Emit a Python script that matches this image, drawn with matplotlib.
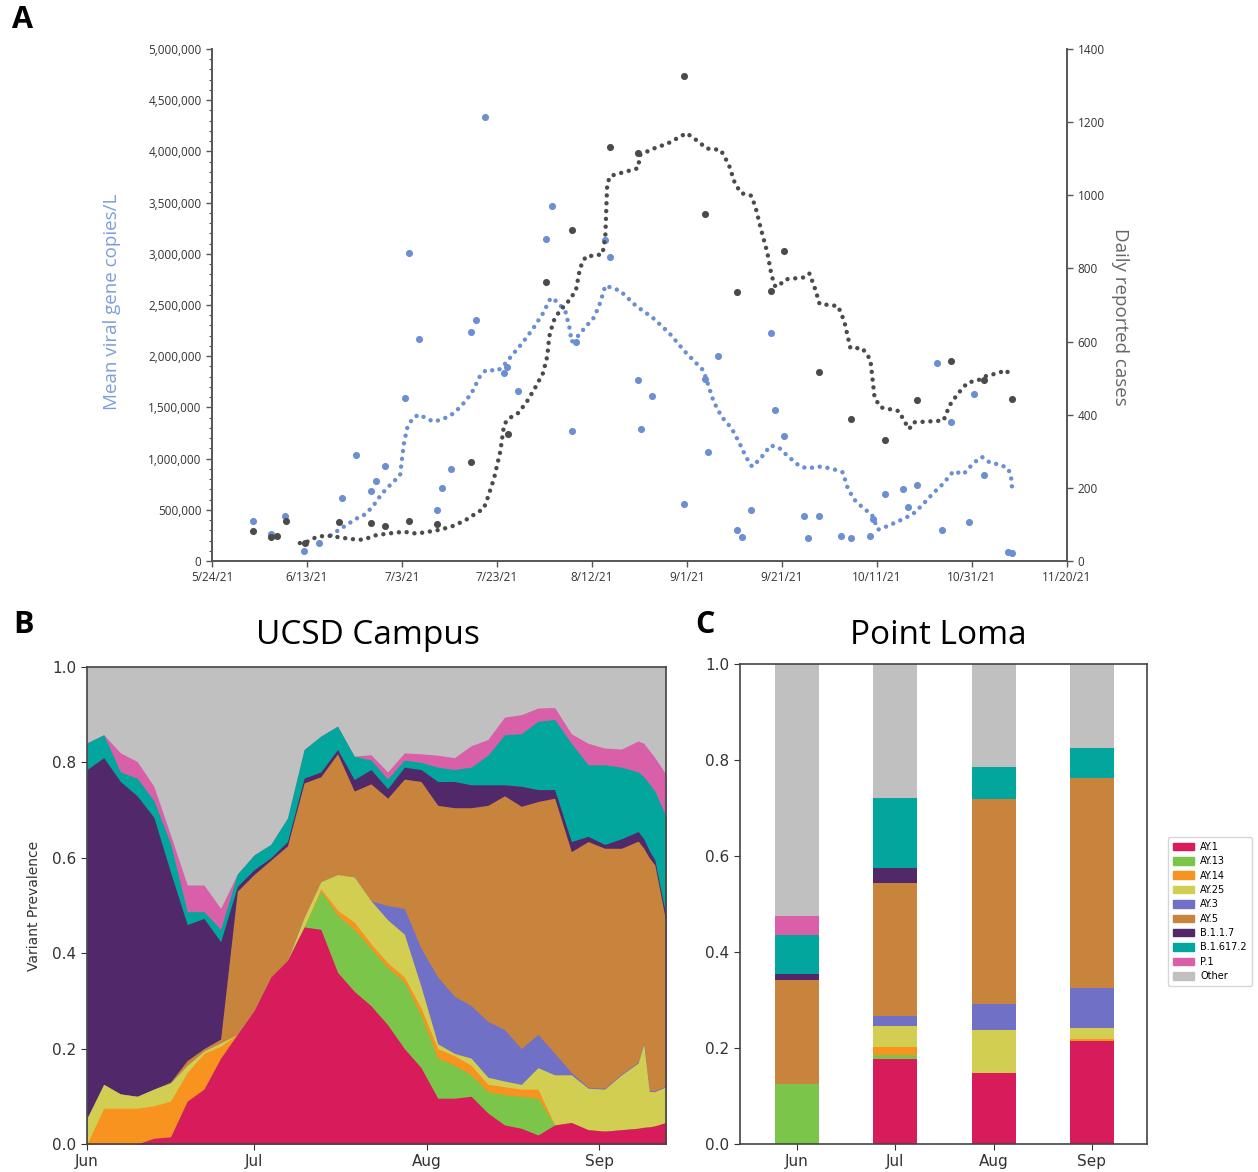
import numpy as np
import pandas as pd
import matplotlib as mpl
mpl.use('Agg')
from matplotlib import pyplot as plt
from matplotlib.patches import Patch
from matplotlib.ticker import MultipleLocator, FuncFormatter

# ---------------- panel A data (days after 5/24/21) ----------------
viral_days = [8.6, 12.5, 15.4, 19.3, 22.5, 27.3, 30.3, 33.4, 34.5, 36.4, 40.6, 41.4, 43.5,
              47.4, 48.5, 50.4, 54.6, 55.6, 57.5, 61.4, 62.0, 64.5, 70.4, 71.6, 75.7, 76.6,
              82.7, 83.7, 89.6, 90.4, 92.6, 99.4, 103.7, 104.5, 106.6, 110.5, 111.5, 113.5,
              117.6, 118.6, 120.5, 124.6, 125.4, 127.7, 132.5, 134.5, 138.6, 139.2, 141.6,
              145.5, 146.5, 148.5, 152.6, 153.6, 155.6, 159.3, 160.4, 162.5, 167.6, 168.5]
viral_vals = [392600, 260000, 443400, 100600, 175800, 615200, 1035000, 683600, 781200, 927700,
              1591800, 3010700, 2167900, 501000, 713900, 893600, 2240200, 2353500, 4335900,
              1839800, 1894500, 1664000, 3148400, 3467800, 1271500, 2138700, 3137700, 2972700,
              1762700, 1284200, 1613300, 559600, 1781300, 1067400, 2004900, 305700, 231400,
              496100, 2221700, 1474600, 1220700, 444300, 220700, 436500, 242200, 220700,
              242200, 410200, 653300, 701200, 522500, 739300, 1930700, 305700, 1359400,
              380900, 1631800, 835900, 88900, 74200]

viral_avg_days = [25.0, 26.2, 28.4, 31.0, 32.3, 34.0, 35.7, 37.4, 39.6, 40.0, 40.4, 41.1, 42.2,
                  43.5, 44.8, 46.6, 48.6, 50.8, 52.5, 54.6, 56.4, 57.7, 60.2, 61.5, 63.3, 65.4,
                  67.6, 69.7, 71.3, 72.7, 74.4, 75.3, 75.7, 77.0, 78.7, 80.5, 81.8, 82.8, 85.9,
                  89.3, 92.7, 96.2, 99.6, 103.4, 104.3, 105.6, 107.3, 109.4, 111.1, 112.4,
                  113.7, 115.4, 117.6, 119.3, 121.0, 123.6, 125.3, 127.8, 130.4, 132.8, 133.8,
                  135.1, 137.2, 138.9, 140.2, 142.4, 145.0, 147.5, 149.6, 151.8, 153.9, 156.1,
                  158.2, 160.4, 162.1, 163.8, 165.9, 167.6, 168.2, 168.5]
viral_avg_vals = [250000, 288000, 355000, 430000, 456000, 542000, 654000, 737000, 838000, 998000,
                  1148000, 1298000, 1391000, 1429000, 1402000, 1361000, 1384000, 1440000,
                  1515000, 1634000, 1803000, 1866000, 1859000, 1915000, 2016000, 2132000,
                  2270000, 2420000, 2569000, 2532000, 2438000, 2270000, 2139000, 2195000,
                  2289000, 2382000, 2532000, 2689000, 2640000, 2490000, 2379000, 2229000,
                  2043000, 1863000, 1744000, 1557000, 1408000, 1296000, 1146000, 1016000,
                  922000, 997000, 1128000, 1109000, 1034000, 930000, 904000, 922000, 904000,
                  866000, 717000, 605000, 512000, 456000, 306000, 344000, 400000, 456000,
                  549000, 661000, 754000, 877000, 848000, 960000, 1016000, 960000, 941000,
                  904000, 829000, 680000]

cases_days = [8.6, 12.4, 13.7, 15.5, 19.6, 26.7, 33.4, 36.4, 41.4, 47.4, 54.6, 62.4, 70.4,
              75.7, 83.7, 89.7, 99.4, 103.7, 110.5, 117.6, 120.5, 127.7, 134.5, 141.6, 148.5,
              155.6, 162.5, 168.5]
cases_vals = [83, 65, 68, 110, 49, 108, 105, 97, 110, 101, 271, 347, 764, 905, 1133, 1115,
              1326, 950, 736, 739, 849, 516, 388, 331, 441, 548, 495, 444]

cases_avg_days = [18.5, 19.8, 21.9, 24.1, 26.7, 29.3, 31.8, 34.4, 37.0, 40.4, 43.0, 45.6, 48.2,
                  50.8, 53.4, 55.9, 57.2, 58.1, 59.4, 60.7, 61.5, 62.4, 64.5, 66.3, 68.0, 69.7,
                  70.6, 71.0, 71.9, 73.1, 74.9, 76.6, 77.5, 78.7, 80.5, 82.2, 82.8, 83.2, 83.9,
                  86.1, 89.7, 90.1, 92.6, 96.0, 99.9, 102.4, 104.1, 107.1, 108.8, 110.1, 111.4,
                  113.5, 114.4, 115.6, 116.9, 117.8, 118.6, 119.5, 120.7, 125.0, 125.8, 127.1,
                  127.9, 131.8, 133.1, 134.4, 136.9, 138.6, 139.5, 140.8, 144.6, 145.9, 146.8,
                  147.6, 154.0, 155.3, 157.0, 159.1, 161.3, 162.5, 165.5, 167.2, 168.2]
cases_avg_vals = [49, 51, 65, 70, 65, 60, 58, 70, 75, 80, 75, 80, 86, 96, 112, 133, 143, 175,
                  227, 300, 373, 389, 405, 436, 473, 514, 561, 614, 656, 682, 708, 739, 802,
                  833, 835, 839, 886, 1032, 1053, 1061, 1074, 1110, 1126, 1142, 1170, 1147,
                  1128, 1124, 1084, 1032, 1006, 999, 969, 906, 844, 781, 750, 755, 770, 776,
                  786, 739, 703, 697, 656, 582, 582, 551, 446, 420, 410, 379, 361, 379, 384,
                  426, 457, 488, 494, 504, 514, 522, 504]

a_tick_labels = ['5/24/21', '6/13/21', '7/3/21', '7/23/21', '8/12/21', '9/1/21',
                 '9/21/21', '10/11/21', '10/31/21', '11/20/21']

# ---------------- panel B data: cumulative tops (days after 6/1/21) ----------------
b_days = [0, 3, 6, 9, 12, 15, 18, 21, 24, 27, 30, 33, 36, 39, 42, 45, 48, 51, 54, 57, 60,
          63, 66, 69, 72, 75, 78, 81, 84, 87, 90, 93, 96, 99, 100, 101, 102, 104]
top_ay1 = [0, 0, 0, 0, .012, .015, .09, .115, .18, .23, .28, .35, .385, .455, .45, .36, .32,
           .29, .25, .20, .16, .096, .096, .10, .065, .04, .033, .019, .04, .045, .03, .027,
           .03, .033, .035, .036, .038, .045]
top_ay13 = [0, 0, 0, 0, .012, .015, .09, .115, .18, .23, .28, .35, .385, .455, .53, .48, .45,
            .41, .37, .34, .27, .18, .165, .145, .11, .103, .10, .096, .04, .045, .03, .027,
            .03, .033, .035, .036, .038, .045]
top_ay14 = [0, .075, .075, .075, .08, .09, .15, .19, .205, .23, .28, .35, .385, .455, .535, .49,
            .465, .42, .38, .35, .285, .20, .185, .165, .125, .12, .115, .115, .04, .045, .03,
            .027, .03, .033, .035, .036, .038, .045]
top_ay25 = [.054, .125, .105, .10, .115, .128, .165, .195, .212, .23, .28, .35, .385, .475, .55,
            .565, .56, .51, .47, .44, .33, .21, .19, .18, .14, .132, .125, .16, .145, .145,
            .117, .115, .145, .17, .21, .11, .11, .12]
top_ay3 = [.054, .125, .105, .10, .115, .128, .165, .195, .212, .23, .28, .35, .385, .475, .55,
           .565, .56, .51, .50, .494, .41, .35, .31, .29, .257, .24, .20, .23, .19, .15, .119,
           .117, .147, .172, .212, .112, .112, .122]
top_ay5 = [.054, .125, .105, .10, .115, .13, .175, .20, .22, .53, .565, .595, .625, .757, .77,
           .818, .74, .755, .725, .765, .76, .71, .705, .705, .71, .73, .708, .718, .725, .613,
           .634, .62, .62, .635, .62, .60, .585, .465]
top_b117 = [.785, .81, .76, .73, .685, .57, .46, .473, .424, .54, .575, .60, .634, .767, .78,
            .827, .764, .785, .745, .79, .785, .76, .76, .753, .753, .753, .75, .743, .743,
            .634, .645, .628, .64, .655, .64, .615, .595, .478]
top_b16172 = [.841, .858, .78, .767, .72, .63, .487, .487, .45, .566, .606, .628, .683, .827,
              .855, .876, .813, .805, .765, .805, .80, .79, .785, .79, .815, .858, .86, .886,
              .89, .84, .795, .795, .79, .78, .77, .755, .74, .686]
top_p1 = [.841, .858, .82, .802, .75, .648, .543, .543, .494, .566, .606, .628, .683, .827, .855,
          .876, .813, .816, .78, .82, .818, .815, .81, .835, .848, .895, .90, .914, .915, .86,
          .84, .83, .828, .845, .84, .825, .81, .775]

# ---------------- panel C data ----------------
months = ['Jun', 'Jul', 'Aug', 'Sep']
pc_ay1 = [0, .178, .148, .214]
pc_ay13 = [.124, .008, 0, 0]
pc_ay14 = [0, .017, 0, .004]
pc_ay25 = [0, .042, .090, .023]
pc_ay3 = [0, .021, .054, .083]
pc_ay5 = [.218, .277, .426, .439]
pc_b117 = [.012, .031, 0, 0]
pc_b16172 = [.082, .147, .067, .061]
pc_p1 = [.040, 0, 0, 0]
pc_other = [.524, .279, .215, .176]

variants = ['AY.1', 'AY.13', 'AY.14', 'AY.25', 'AY.3', 'AY.5', 'B.1.1.7', 'B.1.617.2', 'P.1', 'Other']
colors = ['#d81b5b', '#7bc64a', '#f7931e', '#d2ce52', '#7070c6', '#c8843d', '#51296b',
          '#02a69c', '#d85fa8', '#c0c0c0']

# ---------------- figure ----------------
fig = plt.figure(figsize=(12.58, 11.72), dpi=100)
afont = 'Open Sans'
blue = '#6b8fd3'
dark = '#4b4b4b'

# panel A
ax = fig.add_axes([212 / 1258, 1 - 561 / 1172, 855 / 1258, 512 / 1172])
ax2 = ax.twinx()
t0 = pd.Timestamp('2021-05-24')
dotted = (0, (0.01, 1.75))
ax.plot(t0 + pd.to_timedelta(viral_avg_days, unit='D'), viral_avg_vals, color=blue, lw=3.2,
        linestyle=dotted, dash_capstyle='round')
ax.scatter(t0 + pd.to_timedelta(viral_days, unit='D'), viral_vals, s=26, color=blue, zorder=3,
           linewidths=0)
ax2.plot(t0 + pd.to_timedelta(cases_avg_days, unit='D'), cases_avg_vals, color=dark, lw=3.2,
         linestyle=dotted, dash_capstyle='round')
ax2.scatter(t0 + pd.to_timedelta(cases_days, unit='D'), cases_vals, s=26, color=dark, zorder=3,
            linewidths=0)
ax.set_xlim(t0, t0 + pd.Timedelta(days=180))
ax.set_ylim(0, 5000000)
ax2.set_ylim(0, 1400)
ax.set_xticks(t0 + pd.to_timedelta(np.arange(10) * 20, unit='D'))
ax.set_xticklabels(a_tick_labels)
ax.yaxis.set_major_locator(MultipleLocator(500000))
ax.yaxis.set_minor_locator(MultipleLocator(100000))
ax.yaxis.set_major_formatter(FuncFormatter(lambda v, p: '{:,.0f}'.format(v)))
ax2.yaxis.set_major_locator(MultipleLocator(200))
for a in (ax, ax2):
    a.spines['top'].set_visible(False)
    for s in ('left', 'bottom', 'right'):
        a.spines[s].set_color('#555555')
        a.spines[s].set_linewidth(1.4)
    a.tick_params(axis='both', which='major', labelsize=8.5, colors='#555555',
                  labelcolor='#333333', length=4, width=1)
    a.tick_params(axis='y', which='minor', length=2.5, width=0.8, colors='#555555')
    for lab in a.get_xticklabels() + a.get_yticklabels():
        lab.set_family(afont)
ax.spines['right'].set_visible(False)
ax2.spines['left'].set_visible(False)
ax2.spines['bottom'].set_visible(False)
fig.text(112 / 1258, 1 - 302 / 1172, 'Mean viral gene copies/L', color='#7b9edb', fontsize=13.5,
         rotation=90, ha='center', va='center', family=afont)
fig.text(1120 / 1258, 1 - 317 / 1172, 'Daily reported cases', color='#666666', fontsize=13.5,
         rotation=270, ha='center', va='center', family=afont)

# panel B
axb = fig.add_axes([87 / 1258, 1 - 1144 / 1172, 579 / 1258, 477 / 1172])
tb = pd.Timestamp('2021-06-01')
xb = tb + pd.to_timedelta(b_days, unit='D')
tops = [top_ay1, top_ay13, top_ay14, top_ay25, top_ay3, top_ay5, top_b117, top_b16172, top_p1,
        [1.0] * len(b_days)]
for top, col in zip(tops[::-1], colors[::-1]):
    axb.fill_between(xb, 0, top, color=col, lw=0)
axb.set_xlim(xb[0], xb[-1])
axb.set_ylim(0, 1)
axb.set_xticks(pd.to_datetime(['2021-06-01', '2021-07-01', '2021-08-01', '2021-09-01']))
axb.set_xticklabels(months)
axb.yaxis.set_major_locator(MultipleLocator(0.2))
axb.tick_params(labelsize=11, colors='#333333', length=4)
axb.set_ylabel('Variant Prevalence', fontsize=10, color='#333333', labelpad=8)
for s in axb.spines.values():
    s.set_color('#444444')
    s.set_linewidth(1.2)

# panel C
axc = fig.add_axes([740 / 1258, 1 - 1144 / 1172, 407 / 1258, 480 / 1172])
pc = [pc_ay1, pc_ay13, pc_ay14, pc_ay25, pc_ay3, pc_ay5, pc_b117, pc_b16172, pc_p1, pc_other]
xc = np.arange(len(months))
bottom = np.zeros(len(months))
for vals, col in zip(pc, colors):
    axc.bar(xc, vals, width=0.45, bottom=bottom, color=col, lw=0)
    bottom = bottom + np.array(vals)
axc.set_xlim(-0.58, 3.56)
axc.set_ylim(0, 1)
axc.set_xticks(xc)
axc.set_xticklabels(months)
axc.yaxis.set_major_locator(MultipleLocator(0.2))
axc.tick_params(labelsize=11, colors='#333333', length=4)
for s in axc.spines.values():
    s.set_color('#444444')
    s.set_linewidth(1.2)

handles = [Patch(color=c, label=v) for v, c in zip(variants, colors)]
fig.legend(handles=handles, loc='upper left', bbox_to_anchor=(1166 / 1258, 1 - 835 / 1172),
           fontsize=7, frameon=True, handlelength=2.2, handleheight=0.8, handletextpad=0.6,
           labelspacing=0.45, borderpad=0.5, borderaxespad=0.2, edgecolor='#cccccc')

# titles and panel letters
fig.text(368 / 1258, 1 - 636 / 1172, 'UCSD Campus', fontsize=24, ha='center', va='center',
         family=afont)
fig.text(938 / 1258, 1 - 636 / 1172, 'Point Loma', fontsize=24, ha='center', va='center',
         family=afont)
for lab, x, y in [('A', 22, 20), ('B', 24, 625), ('C', 705, 625)]:
    fig.text(x / 1258, 1 - y / 1172, lab, fontsize=22, fontweight='bold', ha='center',
             va='center', family=afont)

fig.savefig('out.png', dpi=100)
